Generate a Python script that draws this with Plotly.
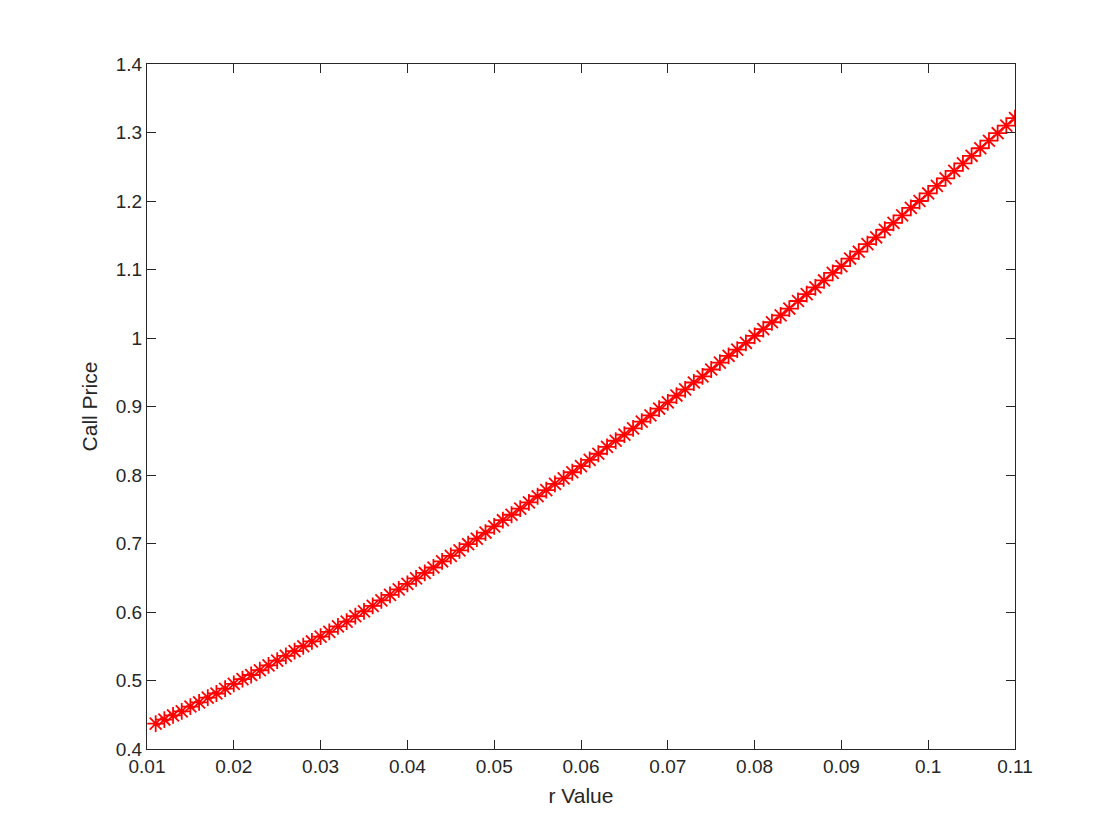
import plotly.graph_objects as go

# interest rate values (x) and the corresponding call prices (y)
r_values = [
    0.011, 0.012, 0.013, 0.014, 0.015, 0.016, 0.017, 0.018, 0.019, 0.020,
    0.021, 0.022, 0.023, 0.024, 0.025, 0.026, 0.027, 0.028, 0.029, 0.030,
    0.031, 0.032, 0.033, 0.034, 0.035, 0.036, 0.037, 0.038, 0.039, 0.040,
    0.041, 0.042, 0.043, 0.044, 0.045, 0.046, 0.047, 0.048, 0.049, 0.050,
    0.051, 0.052, 0.053, 0.054, 0.055, 0.056, 0.057, 0.058, 0.059, 0.060,
    0.061, 0.062, 0.063, 0.064, 0.065, 0.066, 0.067, 0.068, 0.069, 0.070,
    0.071, 0.072, 0.073, 0.074, 0.075, 0.076, 0.077, 0.078, 0.079, 0.080,
    0.081, 0.082, 0.083, 0.084, 0.085, 0.086, 0.087, 0.088, 0.089, 0.090,
    0.091, 0.092, 0.093, 0.094, 0.095, 0.096, 0.097, 0.098, 0.099, 0.100,
    0.101, 0.102, 0.103, 0.104, 0.105, 0.106, 0.107, 0.108, 0.109, 0.110,
]
call_prices = [
    0.437, 0.443, 0.449, 0.455, 0.462, 0.468, 0.475, 0.481, 0.488, 0.495,
    0.502, 0.508, 0.515, 0.522, 0.529, 0.536, 0.543, 0.550, 0.557, 0.564,
    0.571, 0.579, 0.586, 0.594, 0.601, 0.609, 0.617, 0.625, 0.633, 0.641,
    0.649, 0.657, 0.665, 0.674, 0.682, 0.690, 0.699, 0.707, 0.716, 0.725,
    0.734, 0.742, 0.751, 0.760, 0.769, 0.778, 0.787, 0.795, 0.804, 0.813,
    0.822, 0.831, 0.841, 0.850, 0.859, 0.868, 0.878, 0.887, 0.897, 0.906,
    0.916, 0.925, 0.935, 0.944, 0.954, 0.964, 0.974, 0.983, 0.993, 1.003,
    1.013, 1.023, 1.033, 1.043, 1.054, 1.064, 1.074, 1.084, 1.095, 1.105,
    1.116, 1.126, 1.137, 1.147, 1.158, 1.168, 1.179, 1.190, 1.200, 1.211,
    1.222, 1.233, 1.244, 1.255, 1.266, 1.277, 1.288, 1.299, 1.310, 1.321,
]
x_ticks = [0.01, 0.02, 0.03, 0.04, 0.05, 0.06, 0.07, 0.08, 0.09, 0.1, 0.11]
x_tick_labels = ["0.01", "0.02", "0.03", "0.04", "0.05", "0.06",
                 "0.07", "0.08", "0.09", "0.1", "0.11"]
y_ticks = [0.4, 0.5, 0.6, 0.7, 0.8, 0.9, 1.0, 1.1, 1.2, 1.3, 1.4]
y_tick_labels = ["0.4", "0.5", "0.6", "0.7", "0.8", "0.9",
                 "1", "1.1", "1.2", "1.3", "1.4"]

AXIS_COLOR = "#262626"
FONT = "Liberation Sans, Arial, sans-serif"

fig = go.Figure()
fig.add_trace(
    go.Scatter(
        x=r_values,
        y=call_prices,
        mode="markers",
        marker=dict(
            symbol="asterisk-open",
            size=14,
            color="red",
            line=dict(color="red", width=1.8),
        ),
        showlegend=False,
    )
)

axis_common = dict(
    showgrid=False,
    zeroline=False,
    showline=True,
    linecolor=AXIS_COLOR,
    linewidth=1,
    mirror="ticks",
    ticks="inside",
    ticklen=9,
    tickwidth=1,
    tickcolor=AXIS_COLOR,
    tickfont=dict(family=FONT, size=19, color=AXIS_COLOR),
)

fig.update_xaxes(
    range=[0.01, 0.11],
    tickvals=x_ticks,
    ticktext=x_tick_labels,
    title=dict(text="r Value", standoff=12,
               font=dict(family=FONT, size=21, color=AXIS_COLOR)),
    **axis_common,
)
fig.update_yaxes(
    range=[0.4, 1.4],
    tickvals=y_ticks,
    ticktext=y_tick_labels,
    title=dict(text="Call Price", standoff=12,
               font=dict(family=FONT, size=21, color=AXIS_COLOR)),
    **axis_common,
)
fig.update_layout(
    width=1120,
    height=840,
    autosize=False,
    plot_bgcolor="white",
    paper_bgcolor="white",
    margin=dict(l=139, r=113, t=56, b=99, pad=0),
)
fig.write_html("out.html")
